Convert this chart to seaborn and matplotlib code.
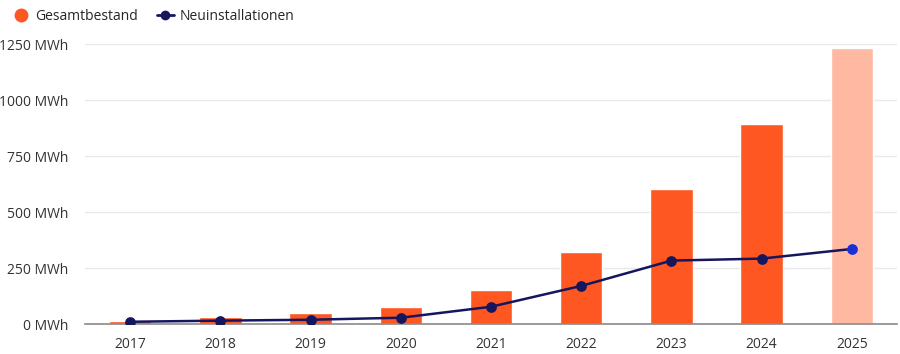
import numpy as np
import pandas as pd
import matplotlib
matplotlib.use('Agg')
import matplotlib.pyplot as plt
from matplotlib.lines import Line2D
import seaborn as sns

# Values (MWh)
years = ['2017', '2018', '2019', '2020', '2021', '2022', '2023', '2024', '2025']
gesamtbestand = [15, 30, 48, 75, 152, 320, 604, 893, 1232]
neuinstallationen = [10, 15, 19, 28, 77, 170, 283, 292, 335]
y_ticks = [0, 250, 500, 750, 1000, 1250]

orange = '#FF5722'
orange_light = '#FFB9A2'
navy = '#15175E'
blue = '#1B2FD8'

sns.set_theme(style='white')
plt.rcParams['font.family'] = ['Open Sans', 'DejaVu Sans']

df = pd.DataFrame({'Jahr': years, 'Gesamtbestand': gesamtbestand,
                   'Neuinstallationen': neuinstallationen})

fig = plt.figure(figsize=(9, 3.54), dpi=100)
ax = fig.add_axes([85 / 900, 30 / 354, 812 / 900, 280 / 354])

# Bars, last year (forecast) in a lighter tint
bar_colors = [orange] * (len(years) - 1) + [orange_light]
sns.barplot(data=df, x='Jahr', y='Gesamtbestand', hue='Jahr', palette=bar_colors,
            legend=False, width=0.47, saturation=1, ax=ax, zorder=2)

# Line for new installations
pos = np.arange(len(years))
sns.lineplot(x=pos, y=df['Neuinstallationen'], color=navy, linewidth=1.8, ax=ax,
             zorder=3)
ax.scatter(pos[:-1], neuinstallationen[:-1], s=45, color=navy, zorder=4)
ax.scatter(pos[-1:], neuinstallationen[-1:], s=45, color=blue, zorder=4)

ax.set_ylim(0, 1250)
ax.set_xlim(-0.5, len(years) - 0.5)
ax.set_yticks(y_ticks)
ax.set_yticklabels([f'{v} MWh' for v in y_ticks])
ax.grid(axis='y', color='#E9E9E9', linewidth=1, zorder=0)
ax.set_axisbelow(True)
for s in ['top', 'right', 'left']:
    ax.spines[s].set_visible(False)
ax.spines['bottom'].set_color('#8A8A8A')
ax.spines['bottom'].set_linewidth(1.2)
ax.tick_params(axis='both', length=0, labelsize=10, colors='#333333')
ax.tick_params(axis='x', pad=9)
ax.tick_params(axis='y', pad=12)
ax.set_xlabel('')
ax.set_ylabel('')

handles = [
    Line2D([], [], marker='o', linestyle='none', markersize=9, color=orange),
    Line2D([], [], marker='o', linestyle='-', markersize=6, linewidth=2, color=navy),
]
fig.legend(handles, ['Gesamtbestand', 'Neuinstallationen'], loc='upper left',
           bbox_to_anchor=(0.0, 1.01), ncol=2, frameon=False, fontsize=10,
           handlelength=1.2, columnspacing=1.4, handletextpad=0.4)

fig.savefig('out.png', dpi=100)
